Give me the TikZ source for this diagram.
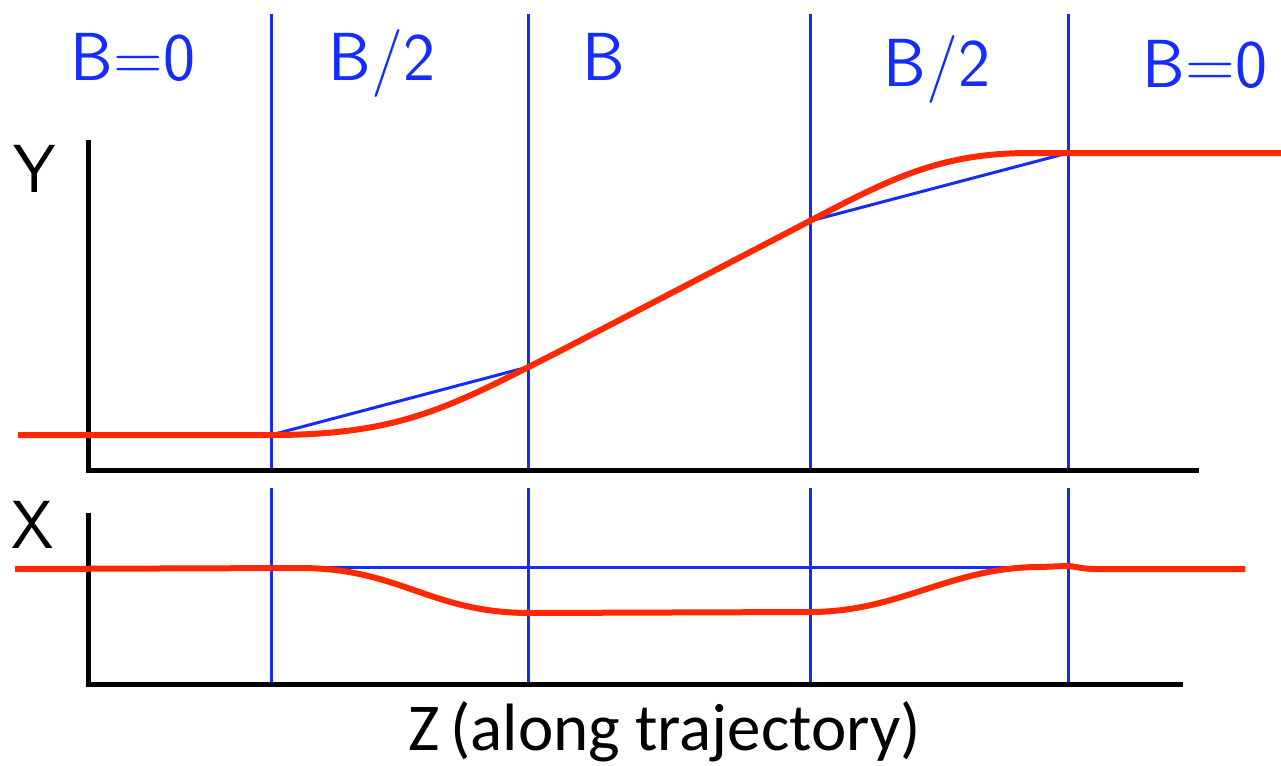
\documentclass[tikz,border=0pt]{standalone}
\usepackage{fontspec}
\newfontfamily\zfont{Carlito}
\definecolor{bl}{RGB}{20,45,255}
\definecolor{rd}{RGB}{255,40,0}
\begin{document}
\begin{tikzpicture}[x=1pt,y=-1pt,
  bline/.style={draw=bl,line width=3pt},
  rline/.style={draw=rd,line width=6pt,line join=round},
  axis/.style={draw=black,line width=5pt},
  blab/.style={text=bl,font=\sffamily\fontsize{68}{72}\selectfont,anchor=base,inner sep=0pt},
  klab/.style={text=black,font=\sffamily\fontsize{68}{72}\selectfont,anchor=base,inner sep=0pt},
  zlab/.style={text=black,font=\zfont\fontsize{67}{72}\selectfont,anchor=base west,inner sep=0pt}]
\useasboundingbox (0,0) rectangle (1281,765);
% region boundaries
\foreach \x/\n in {271/a,528/b,810/c,1068/d}{
  \coordinate (t\n) at (\x,14);
  \coordinate (m\n) at (\x,470);
  \coordinate (u\n) at (\x,488);
  \coordinate (l\n) at (\x,684);
  \draw[bline] (t\n) -- (m\n);
  \draw[bline] (u\n) -- (l\n);
}
% axes
\coordinate (yt) at (88,140);
\coordinate (yo) at (88,470);
\coordinate (ye) at (1199,470);
\coordinate (xt) at (88,513);
\coordinate (xo) at (88,684);
\coordinate (xe) at (1183,684);
\draw[axis] (yt) -- (yo) -- (ye);
\draw[axis] (xt) -- (xo) -- (xe);
% blue chords
\coordinate (p1) at (271,435);
\coordinate (p2) at (528,367);
\coordinate (p3) at (810,221);
\coordinate (p4) at (1068,153);
\draw[bline,line join=round] (p1) -- (p2) -- (p3) -- (p4);
\coordinate (q1) at (271,567);
\coordinate (q2) at (1068,567);
\draw[bline] (q1) -- (q2);
% red trajectories
\draw[rline] (18,435) -- (271,435)
  .. controls (401,435) and (450,407) .. (560,351)
  -- (780,236.5)
  .. controls (880,184.7) and (930,153) .. (1030,153)
  -- (1281,153);
\draw[rline] (15,569) -- (300,568)
  .. controls (400,568) and (430,613) .. (530,613)
  -- (810,612)
  .. controls (900,612) and (950,567) .. (1040,567)
  -- (1066,566) .. controls (1076,566) and (1080,569) .. (1096,569)
  -- (1245,569);
% labels
\node[blab] (l1) at (133,81) {B=0};
\node[blab] (l2) at (382,81) {B/2};
\node[blab] (l3) at (604,81) {B};
\node[blab] (l4) at (937,87) {B/2};
\node[blab] (l5) at (1205,88) {B=0};
\node[klab] (ly) at (35,192) {Y};
\node[klab] (lx) at (33,548) {X};
\node[zlab] (lz) at (408,750) {Z\hspace{0.16em}(along trajectory)};
\end{tikzpicture}
\end{document}
